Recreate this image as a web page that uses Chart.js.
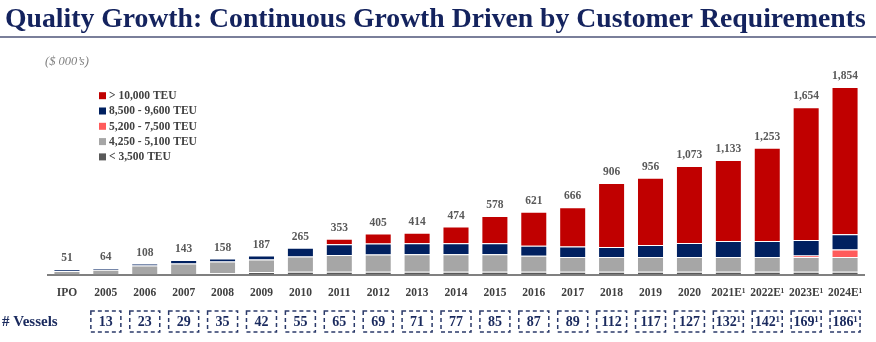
<!DOCTYPE html>
<html>
<head>
<meta charset="utf-8">
<script src="https://cdn.jsdelivr.net/npm/chart.js@4.4.1/dist/chart.umd.min.js"></script>
<style>
  html, body { margin: 0; padding: 0; background: #ffffff; }
  #wrap { width: 876px; height: 342px; position: relative; }
</style>
</head>
<body>
<div id="wrap"><canvas id="c" width="876" height="342"></canvas></div>
<script>
// Fleet value by vessel size class ($ 000's), stacked bottom to top
const categories = ['IPO','2005','2006','2007','2008','2009','2010','2011','2012','2013','2014',
  '2015','2016','2017','2018','2019','2020','2021E\u00B9','2022E\u00B9','2023E\u00B9','2024E\u00B9'];

const teuBelow3500 = [null,null,null,null,12,25,28,28,28,28,28,28,28,28,28,28,28,28,28,28,28];
const teu4250to5100 = [35,47,90,110,116,124,151,165,171,172,172,172,158,146,146,146,146,146,146,146,146];
const teu5200to7500 = [null,null,null,null,null,null,null,null,null,null,null,null,null,null,null,null,null,null,null,15,73];
const teu8500to9600 = [16,17,18,33,30,38,86,106,107,108,108,108,99,102,99,119,138,158,158,153,151];
const teuAbove10000 = [null,null,null,null,null,null,null,54,99,106,166,270,336,390,633,663,761,801,921,1312,1456];

const vesselCounts = ['','13','23','29','35','42','55','65','69','71','77','85','87','89',
  '112','117','127','132\u00B9','142\u00B9','169\u00B9','186\u00B9'];

const seriesNames = ['< 3,500 TEU','4,250 - 5,100 TEU','5,200 - 7,500 TEU','8,500 - 9,600 TEU','> 10,000 TEU'];
const seriesColors = ['#595959','#a6a6a6','#ff5b5b','#002060','#c00000'];

const SERIF = "'Liberation Serif', 'Times New Roman', serif";

const seriesValues = [teuBelow3500, teu4250to5100, teu5200to7500, teu8500to9600, teuAbove10000];
const totals = categories.map((_, i) => seriesValues.reduce((s, arr) => s + (arr[i] || 0), 0));

// Page heading, rule and unit note
const headerPlugin = {
  id: 'header',
  beforeDraw(chart) {
    const ctx = chart.ctx;
    ctx.save();
    ctx.fillStyle = '#14235e';
    ctx.font = 'bold 27.7px ' + SERIF;
    ctx.textBaseline = 'alphabetic';
    ctx.textAlign = 'left';
    ctx.fillText('Quality Growth: Continuous Growth Driven by Customer Requirements', 5, 27);
    ctx.fillStyle = '#7a7f9a';
    ctx.fillRect(0, 36, 876, 2);
    ctx.fillStyle = '#7f7f7f';
    ctx.font = 'italic 12.5px ' + SERIF;
    ctx.textBaseline = 'middle';
    ctx.fillText('($ 000\u2019s)', 45, 62);
    ctx.restore();
  }
};

// Totals above each stack
const totalsPlugin = {
  id: 'totals',
  afterDatasetsDraw(chart) {
    const ctx = chart.ctx;
    const x = chart.scales.x, y = chart.scales.y;
    ctx.save();
    ctx.fillStyle = '#595959';
    ctx.font = 'bold 11.5px ' + SERIF;
    ctx.textAlign = 'center';
    ctx.textBaseline = 'alphabetic';
    totals.forEach((t, i) => {
      ctx.fillText(t.toLocaleString('en-US'), x.getPixelForValue(i), y.getPixelForValue(t) - 8);
    });
    ctx.restore();
  }
};

// Size-class key, largest class first
const keyPlugin = {
  id: 'sizeKey',
  afterDraw(chart) {
    const ctx = chart.ctx;
    ctx.save();
    ctx.font = 'bold 11.5px ' + SERIF;
    ctx.textBaseline = 'middle';
    ctx.textAlign = 'left';
    for (let k = 0; k < seriesNames.length; k++) {
      const idx = seriesNames.length - 1 - k;
      const cy = 95.7 + k * 15.3;
      ctx.fillStyle = seriesColors[idx];
      ctx.fillRect(99, cy - 3.5, 7, 7);
      ctx.fillStyle = '#404040';
      ctx.fillText(seriesNames[idx], 109, cy + 0.5);
    }
    ctx.restore();
  }
};

// Vessel count row with dashed boxes
const vesselPlugin = {
  id: 'vessels',
  afterDraw(chart) {
    const ctx = chart.ctx;
    const x = chart.scales.x;
    ctx.save();
    ctx.fillStyle = '#1a2a5e';
    ctx.font = 'bold 15px ' + SERIF;
    ctx.textAlign = 'left';
    ctx.textBaseline = 'middle';
    ctx.fillText('# Vessels', 2, 322);
    ctx.font = 'bold 14px ' + SERIF;
    ctx.textAlign = 'center';
    vesselCounts.forEach((v, i) => {
      if (!v) return;
      const cx = x.getPixelForValue(i);
      ctx.strokeStyle = '#2b3a6a';
      ctx.lineWidth = 1.5;
      ctx.setLineDash([4, 3]);
      ctx.strokeRect(cx - 15, 311, 30, 21);
      ctx.setLineDash([]);
      ctx.fillStyle = '#1a2a5e';
      ctx.fillText(v, cx, 322);
    });
    ctx.restore();
  }
};

new Chart(document.getElementById('c'), {
  type: 'bar',
  data: {
    labels: categories,
    datasets: seriesValues.map((vals, i) => ({
      label: seriesNames[i],
      data: vals,
      backgroundColor: seriesColors[i],
      borderColor: 'rgba(255,255,255,0.6)',
      borderWidth: { top: 1, left: 0.5, right: 0.5, bottom: 0 },
      borderSkipped: false,
      categoryPercentage: 1,
      barPercentage: 0.67
    }))
  },
  options: {
    responsive: false,
    animation: false,
    devicePixelRatio: 1,
    layout: { padding: { left: 47.5, right: 11.5, top: 72.3, bottom: 0 } },
    plugins: {
      legend: { display: false },
      tooltip: { enabled: false },
      title: { display: false }
    },
    scales: {
      x: {
        stacked: true,
        grid: { display: false, drawTicks: false },
        border: { display: true, color: '#808080', width: 2 },
        ticks: {
          color: '#404040',
          font: { family: SERIF, size: 11.5, weight: 'bold' },
          padding: 12,
          maxRotation: 0,
          autoSkip: false
        },
        afterFit(scale) { scale.height = 67.5; }
      },
      y: {
        stacked: true,
        display: false,
        min: 0,
        max: 2000
      }
    }
  },
  plugins: [headerPlugin, totalsPlugin, keyPlugin, vesselPlugin]
});
</script>
</body>
</html>
